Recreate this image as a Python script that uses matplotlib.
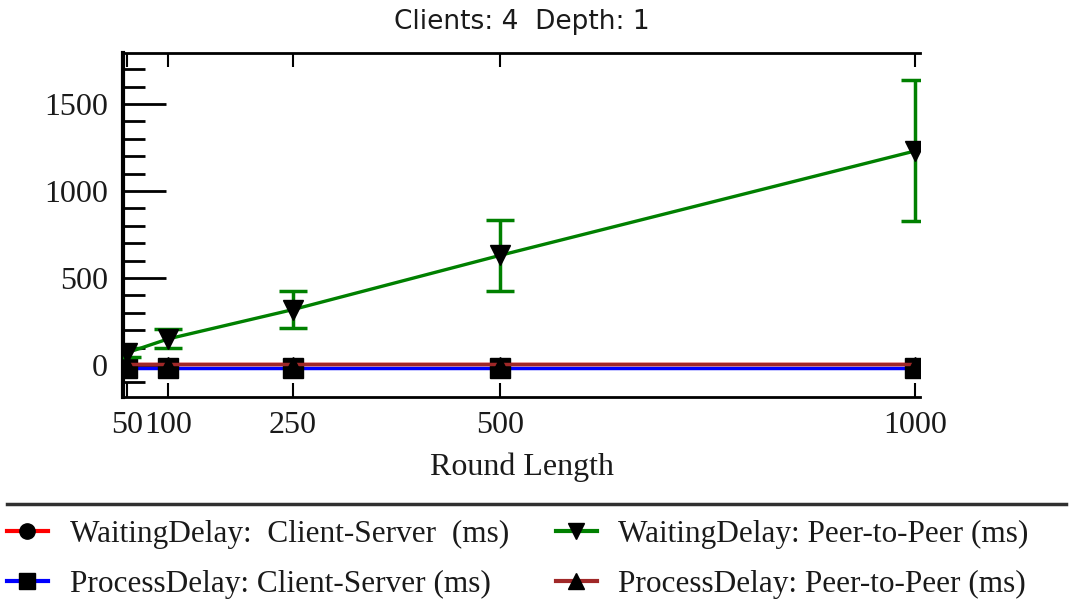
import matplotlib
matplotlib.use("Agg")
import matplotlib.pyplot as plt
from matplotlib.lines import Line2D
from matplotlib.ticker import MultipleLocator, FixedLocator

# Data
round_length = [50, 100, 250, 500, 1000]
wait_cs = [8, 8, 8, 8, 8]
proc_cs = [-15, -15, -15, -15, -15]
wait_p2p = [70, 150, 318, 630, 1230]
wait_p2p_err = [25, 55, 105, 205, 405]
proc_p2p = [8, 8, 8, 8, 8]

labels = ["WaitingDelay:  Client-Server  (ms)",
          "ProcessDelay: Client-Server (ms)",
          "WaitingDelay: Peer-to-Peer (ms)",
          "ProcessDelay: Peer-to-Peer (ms)"]
title = "Clients: 4  Depth: 1"
xlabel = "Round Length"

SERIF = "Liberation Serif"
TXT = "#1a1a1a"

fig = plt.figure(figsize=(10.73, 5.99), dpi=100)
ax = fig.add_axes([123/1073, 1-397/599, (920-123)/1073, (397-53)/599])

ax.plot(round_length, wait_cs, color="#FF0000", lw=2.5, marker="o", ms=8,
        mfc="black", mec="black", zorder=3)
ax.plot(round_length, proc_cs, color="#0000FF", lw=2.5, marker="s", ms=14,
        mfc="black", mec="black", zorder=3.5)
ax.errorbar(round_length, wait_p2p, yerr=wait_p2p_err, color="#008000", lw=2.4,
            elinewidth=2.5, capsize=10, capthick=2.5, marker="v", ms=14,
            mfc="black", mec="black", zorder=4)
ax.plot(round_length, proc_p2p, color="#A02828", lw=2.5, marker="^", ms=10,
        mfc="black", mec="black", zorder=5)

ax.set_xlim(45.5, 1006)
ax.set_ylim(-184, 1793)

ax.spines["right"].set_visible(False)
for s in ["left", "top", "bottom"]:
    ax.spines[s].set_linewidth(2)
ax.spines["left"].set_linewidth(3)

ax.xaxis.set_major_locator(FixedLocator(round_length))
ax.set_xticklabels([str(v) for v in round_length])
ax.yaxis.set_major_locator(MultipleLocator(500))
ax.yaxis.set_minor_locator(MultipleLocator(100))

ax.tick_params(axis="y", which="major", direction="in", length=31, width=2,
               labelsize=23, pad=11, right=False)
ax.tick_params(axis="y", which="minor", direction="in", length=16, width=2,
               right=False)
ax.tick_params(axis="x", which="major", direction="in", length=10, width=1.5,
               labelsize=23, pad=10, top=True)

for t in ax.get_xticklabels() + ax.get_yticklabels():
    t.set_fontfamily(SERIF)
    t.set_color(TXT)

ax.set_title(title, fontsize=19, fontfamily="DejaVu Sans", color=TXT, pad=17)
ax.set_xlabel(xlabel, fontsize=23, fontfamily=SERIF, color=TXT, labelpad=9)

# separator line
fig.add_artist(Line2D([7/1073, 1066/1073], [1-504/599, 1-504/599],
                      transform=fig.transFigure, color="#303030", lw=2.5))

handles = [
    Line2D([], [], color="#FF0000", lw=3, marker="o", ms=11, mfc="black", mec="black"),
    Line2D([], [], color="#0000FF", lw=3, marker="s", ms=11, mfc="black", mec="black"),
    Line2D([], [], color="#008000", lw=3, marker="v", ms=11, mfc="black", mec="black"),
    Line2D([], [], color="#A02828", lw=3, marker="^", ms=11, mfc="black", mec="black"),
]
common = dict(loc="upper left", frameon=False, handlelength=1.3, handletextpad=0.7,
              labelspacing=0.68, borderaxespad=0, borderpad=0,
              prop={"family": SERIF, "size": 22.5})
for x0, hs, ls in [(7, handles[:2], labels[:2]), (556, handles[2:], labels[2:])]:
    leg = fig.legend(hs, ls, bbox_to_anchor=(x0/1073, 1-520/599), **common)
    for t in leg.get_texts():
        t.set_color(TXT)

fig.savefig("out.png", dpi=100, facecolor="white")
